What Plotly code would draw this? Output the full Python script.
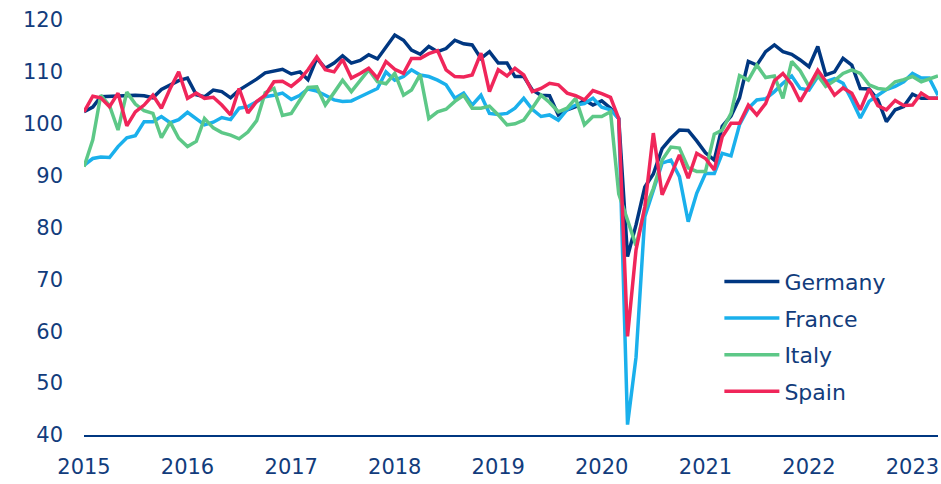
import pandas as pd
import plotly.graph_objects as go

months = pd.date_range("2015-01-01", periods=100, freq="MS")

germany = [102.3, 103.2, 105.2, 105.3, 105.4, 105.5, 105.5, 105.4, 105.0, 106.6,
           107.5, 108.3, 108.8, 105.6, 105.2, 106.5, 106.2, 105.0, 106.5, 107.5,
           108.6, 109.8, 110.2, 110.5, 109.6, 110.0, 108.5, 112.6, 110.7, 111.7,
           113.1, 111.7, 112.2, 113.3, 112.5, 114.9, 117.1, 116.1, 114.2, 113.4,
           114.9, 113.9, 114.5, 116.1, 115.4, 115.2, 112.6, 113.9, 111.7, 111.7,
           109.1, 109.1, 106.5, 105.5, 105.4, 101.7, 102.7, 103.3, 104.6, 103.6,
           104.4, 103.0, 101.0, 74.4, 80.5, 87.8, 90.3, 95.2, 97.2, 98.8,
           98.7, 96.7, 94.4, 93.0, 99.5, 101.5, 105.0, 112.0, 111.3, 113.9,
           115.2, 113.9, 113.4, 112.3, 111.0, 114.9, 109.4, 110.0, 112.6, 111.3,
           106.8, 106.7, 104.6, 100.4, 102.7, 103.3, 105.7, 104.9, 104.9, 104.9]

france = [92.0, 93.3, 93.6, 93.5, 95.6, 97.3, 97.7, 100.4, 100.4, 101.4,
          100.2, 100.8, 102.2, 101.0, 99.8, 100.3, 101.2, 100.8, 103.0, 103.3,
          104.3, 105.2, 105.5, 105.9, 104.7, 105.5, 106.7, 106.3, 105.5, 104.6,
          104.3, 104.4, 105.2, 105.9, 106.8, 110.0, 108.4, 109.1, 110.4, 109.4,
          109.1, 108.4, 107.5, 104.9, 105.9, 103.6, 105.5, 102.0, 101.8, 102.0,
          103.0, 104.9, 102.8, 101.4, 101.7, 100.7, 102.7, 103.6, 103.9, 104.9,
          103.2, 102.7, 101.0, 42.0, 55.0, 82.1, 87.2, 92.4, 93.0, 89.8,
          81.1, 86.6, 90.4, 90.4, 94.3, 93.8, 99.8, 103.0, 104.6, 104.8,
          106.2, 107.8, 109.2, 106.8, 106.5, 109.1, 108.1, 108.7, 107.8, 104.6,
          101.1, 104.3, 105.5, 106.6, 107.2, 108.1, 109.7, 108.8, 108.8, 105.5]

italy = [91.7, 96.9, 105.5, 103.5, 98.8, 106.1, 103.8, 102.5, 102.0, 97.3,
         100.3, 97.2, 95.6, 96.6, 101.0, 99.2, 98.3, 97.8, 97.1, 98.4,
         100.6, 106.0, 106.8, 101.6, 102.0, 104.7, 107.0, 107.1, 103.6, 106.0,
         108.4, 106.2, 108.4, 110.4, 108.1, 107.7, 109.7, 105.5, 106.5, 109.5,
         101.0, 102.3, 102.8, 104.3, 105.5, 103.0, 103.0, 103.4, 101.7, 99.8,
         100.0, 100.7, 103.0, 105.5, 104.1, 102.3, 103.0, 104.9, 99.8, 101.4,
         101.4, 102.3, 86.5, 81.5, 76.5, 83.5, 87.5, 93.0, 95.5, 95.3,
         91.5, 90.8, 90.8, 98.0, 98.8, 102.0, 109.3, 108.4, 111.3, 108.9,
         109.2, 104.9, 112.0, 110.2, 107.2, 109.3, 107.2, 108.3, 109.7, 110.4,
         109.7, 107.5, 106.8, 106.6, 108.1, 108.5, 109.1, 108.1, 108.6, 109.2]

spain = [102.3, 105.3, 105.0, 103.3, 105.9, 99.6, 102.3, 103.6, 105.5, 103.0,
         106.8, 110.0, 104.9, 105.9, 104.9, 105.1, 103.6, 101.7, 106.8, 102.1,
         104.3, 105.5, 108.1, 108.2, 107.2, 108.6, 110.4, 112.9, 110.4, 110.0,
         112.4, 108.8, 109.7, 110.7, 108.8, 112.0, 110.5, 109.7, 112.6, 112.6,
         113.5, 114.1, 110.4, 109.1, 109.0, 109.4, 113.6, 106.2, 110.4, 109.2,
         110.7, 109.4, 106.2, 106.8, 107.8, 107.5, 105.9, 105.4, 104.6, 106.4,
         105.8, 105.1, 101.0, 59.0, 75.7, 84.0, 98.2, 86.3, 90.1, 94.0,
         89.5, 94.3, 93.3, 91.1, 97.5, 100.1, 100.1, 103.6, 101.7, 103.9,
         108.3, 109.7, 107.6, 104.3, 107.2, 110.3, 108.2, 105.5, 106.9, 105.9,
         102.7, 106.7, 103.5, 102.7, 104.5, 103.5, 103.6, 105.9, 104.9, 104.9]

series_names = ["Germany", "France", "Italy", "Spain"]
series_values = [germany, france, italy, spain]
series_colors = ["#003781", "#1AB0EC", "#5DC887", "#F0265A"]

text_color = "#123C7C"
font_family = "'DejaVu Sans', sans-serif"

fig = go.Figure()
for name, vals, col in zip(series_names, series_values, series_colors):
    fig.add_trace(go.Scatter(
        x=months, y=vals, mode="lines", name=name,
        line=dict(color=col, width=3.5), legendgroup=name,
    ))

fig.update_layout(
    width=941, height=484,
    margin=dict(l=84, r=3, t=20, b=49),
    plot_bgcolor="white", paper_bgcolor="white",
    font=dict(family=font_family, color=text_color, size=21),
    showlegend=True,
    legend=dict(
        x=0.744, y=0.42, xanchor="left", yanchor="top",
        bgcolor="rgba(0,0,0,0)", font=dict(size=22, color=text_color),
        itemwidth=55, tracegroupgap=5,
    ),
)
fig.update_xaxes(
    range=[months[0], months[-1]], automargin=False,
    tickformat="%Y", dtick="M12", tick0="2015-01-01",
    showgrid=False, zeroline=False,
    showline=True, linecolor="#003781", linewidth=2,
    ticks="", ticklabelstandoff=12,
    tickfont=dict(size=21, color=text_color),
)
fig.update_yaxes(
    range=[40, 120], dtick=10, tick0=40, automargin=False,
    showgrid=False, zeroline=False, showline=False,
    ticks="", ticklabelstandoff=20,
    tickfont=dict(size=21, color=text_color),
)

fig.write_html(
    "out.html",
    config={"displayModeBar": False},
    post_script="document.body.style.margin='0';document.body.style.overflow='hidden';",
)
